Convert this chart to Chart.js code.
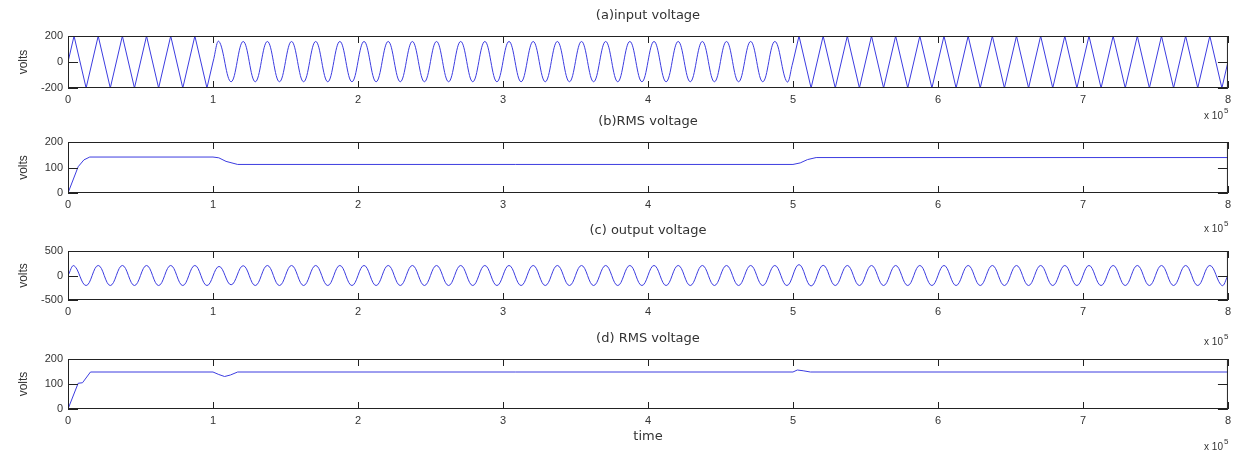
<!DOCTYPE html>
<html>
<head>
<meta charset="utf-8">
<script src="https://cdn.jsdelivr.net/npm/chart.js@4.4.1/dist/chart.umd.min.js"></script>
<style>
  html, body { margin: 0; padding: 0; background: #fff; }
  body { width: 1236px; height: 453px; position: relative; overflow: hidden; }
  canvas { position: absolute; left: 0; }
</style>
</head>
<body>
<canvas id="chartA"></canvas>
<canvas id="chartB"></canvas>
<canvas id="chartC"></canvas>
<canvas id="chartD"></canvas>
<script>
// time axis is in units of 10^5
const timeTicks = [0, 1, 2, 3, 4, 5, 6, 7, 8]
const inputTicks = [-200, 0, 200]
const rmsTicks = [0, 100, 200]
const outputTicks = [-500, 0, 500]

// sag starts at 1, supply is back at 5
const eventTimes = [1, 5]
// 6 cycles per unit -> one peak every 1/12
const halfCycle = 1 / 12

// peak of each half cycle
const inputPeaks = [
  200, -200, 200, -200, 200, -200, 200, -200, 200, -200, 200, -200,
  158, -152, 158, -152, 158, -152, 158, -152, 158, -152, 158, -152,
  158, -152, 158, -152, 158, -152, 158, -152, 158, -152, 158, -152,
  158, -152, 158, -152, 158, -152, 158, -152, 158, -152, 158, -152,
  158, -152, 158, -152, 158, -152, 158, -152, 158, -152, 158, -152,
  200, -200, 200, -200, 200, -200, 200, -200, 200, -200, 200, -200,
  200, -200, 200, -200, 200, -200, 200, -200, 200, -200, 200, -200,
  200, -200, 200, -200, 200, -200, 200, -200, 200, -200, 200, -200
]

// peak of each half cycle
const outputPeaks = [
  200, -205, 205, -205, 205, -205, 205, -205, 205, -205, 205, -205,
  185, -190, 200, -205, 205, -205, 205, -205, 205, -205, 205, -205,
  205, -205, 205, -205, 205, -205, 205, -205, 205, -205, 205, -205,
  205, -205, 205, -205, 205, -205, 205, -205, 205, -205, 205, -205,
  205, -205, 205, -205, 205, -205, 205, -205, 205, -205, 205, -205,
  222, -214, 208, -205, 205, -205, 205, -205, 205, -205, 205, -205,
  205, -205, 205, -205, 205, -205, 205, -205, 205, -205, 205, -205,
  205, -205, 205, -205, 205, -205, 205, -205, 205, -205, 205, -205
]

// RMS traces
const rmsInTime = [0, 0.07, 0.11, 0.15, 1.0, 1.04, 1.09, 1.17, 5.0, 5.05, 5.1, 5.16, 8]
const rmsInValue = [0, 103, 130, 141, 141, 138, 124, 112, 112, 118, 131, 139, 139]
const rmsOutTime = [0, 0.07, 0.1, 0.155, 1.0, 1.04, 1.08, 1.12, 1.17, 5.0, 5.03, 5.07, 5.12, 8]
const rmsOutValue = [0, 103, 105, 148, 148, 138, 130, 136, 148, 148, 156, 153, 148, 148]

const BLUE = '#3c3ce0'
Chart.defaults.font.family = '"Liberation Sans", Arial, sans-serif'
Chart.defaults.font.size = 11
Chart.defaults.color = '#333'

function wavePoints(peaks, from, to) {
    const pts = [{ x: from, y: 0 }]
    peaks.forEach((v, i) => {
        const t = (i + 0.5) * halfCycle
        if (t > from && t < to) pts.push({ x: t, y: v })
    })
    pts.push({ x: to, y: 0 })
    return pts
}

function tracePoints(times, values) {
    return times.map((t, i) => ({ x: t, y: values[i] }))
}

function line(data, tension) {
    return { data: data, borderColor: BLUE, borderWidth: 1, pointRadius: 0, tension: tension, fill: false }
}

//box around the axes, inward ticks and the x 10^5 note
const frame = {
    id: 'frame',
    afterDraw(chart) {
        const { ctx, chartArea: a, scales: { x, y } } = chart
        ctx.save()
        ctx.strokeStyle = '#222'
        ctx.lineWidth = 1
        ctx.strokeRect(a.left + 0.5, a.top + 0.5, a.width - 1, a.height - 1)
        ctx.beginPath()
        x.ticks.forEach((t) => {
            const px = Math.round(x.getPixelForValue(t.value)) + 0.5
            ctx.moveTo(px, a.bottom); ctx.lineTo(px, a.bottom - 7)
            ctx.moveTo(px, a.top); ctx.lineTo(px, a.top + 7)
        })
        y.ticks.forEach((t) => {
            const py = Math.round(y.getPixelForValue(t.value)) + 0.5
            ctx.moveTo(a.left, py); ctx.lineTo(a.left + 10, py)
            ctx.moveTo(a.right, py); ctx.lineTo(a.right - 10, py)
        })
        ctx.stroke()
        const ey = a.bottom + chart.options.plugins.frame.expOffset
        ctx.fillStyle = '#333'
        ctx.textBaseline = 'middle'
        ctx.textAlign = 'right'
        ctx.font = '10px "Liberation Sans", Arial, sans-serif'
        ctx.fillText('x 10', a.right - 5, ey)
        ctx.textAlign = 'left'
        ctx.font = '8px "Liberation Sans", Arial, sans-serif'
        ctx.fillText('5', a.right - 4, ey - 5)
        ctx.restore()
    }
}

const panels = [
    { id: 'chartA', title: '(a)input voltage', boxTop: 36, boxH: 52, axisH: 40, expOffset: 28, ticks: inputTicks,
      datasets: [line(wavePoints(inputPeaks, 0, eventTimes[0]), 0),
                 line(wavePoints(inputPeaks, eventTimes[0], eventTimes[1]), 0.4),
                 line(wavePoints(inputPeaks, eventTimes[1], 8), 0)] },
    { id: 'chartB', title: '(b)RMS voltage', boxTop: 142, boxH: 51, axisH: 45, expOffset: 36, ticks: rmsTicks,
      datasets: [line(tracePoints(rmsInTime, rmsInValue), 0)] },
    { id: 'chartC', title: '(c) output voltage', boxTop: 251, boxH: 49, axisH: 50, expOffset: 42, ticks: outputTicks,
      datasets: [line(wavePoints(outputPeaks, 0, 8), 0.4)] },
    { id: 'chartD', title: '(d) RMS voltage', boxTop: 359, boxH: 50, axisH: 44, expOffset: 38, ticks: rmsTicks, xTitle: 'time',
      datasets: [line(tracePoints(rmsOutTime, rmsOutValue), 0)] }
]

panels.forEach((p) => {
    const canvas = document.getElementById(p.id)
    const top = p.boxTop - 28
    canvas.width = 1236
    canvas.height = 28 + p.boxH + p.axisH
    canvas.style.top = top + 'px'

    new Chart(canvas, {
        type: 'line',
        data: { datasets: p.datasets },
        plugins: [frame],
        options: {
            responsive: false,
            animation: false,
            devicePixelRatio: 1,
            layout: { padding: { left: 0, right: 7, top: 0, bottom: 0 } },
            plugins: {
                legend: { display: false },
                tooltip: { enabled: false },
                frame: { expOffset: p.expOffset },
                title: {
                    display: true,
                    text: p.title,
                    fullSize: false,
                    color: '#333',
                    font: { family: '"DejaVu Sans", sans-serif', size: 13, weight: 'normal', lineHeight: '16px' },
                    padding: { top: 0, bottom: 12 }
                }
            },
            scales: {
                x: {
                    type: 'linear',
                    min: 0,
                    max: 8,
                    afterBuildTicks: (s) => { s.ticks = timeTicks.map((v) => ({ value: v })) },
                    afterFit: (s) => { s.height = p.axisH },
                    grid: { display: false, drawTicks: false },
                    border: { display: false },
                    ticks: { padding: 5, maxRotation: 0, color: '#333' },
                    title: {
                        display: !!p.xTitle,
                        text: p.xTitle || '',
                        color: '#333',
                        font: { family: '"DejaVu Sans", sans-serif', size: 13 },
                        padding: { top: 0, bottom: 9 }
                    }
                },
                y: {
                    min: p.ticks[0],
                    max: p.ticks[p.ticks.length - 1],
                    afterBuildTicks: (s) => { s.ticks = p.ticks.map((v) => ({ value: v })) },
                    afterFit: (s) => { s.width = 68 },
                    grid: { display: false, drawTicks: false },
                    border: { display: false },
                    ticks: { padding: 5, color: '#333' },
                    title: {
                        display: true,
                        text: 'volts',
                        color: '#333',
                        font: { size: 12 },
                        padding: { top: 16, bottom: 0 }
                    }
                }
            }
        }
    })
})
</script>
</body>
</html>
